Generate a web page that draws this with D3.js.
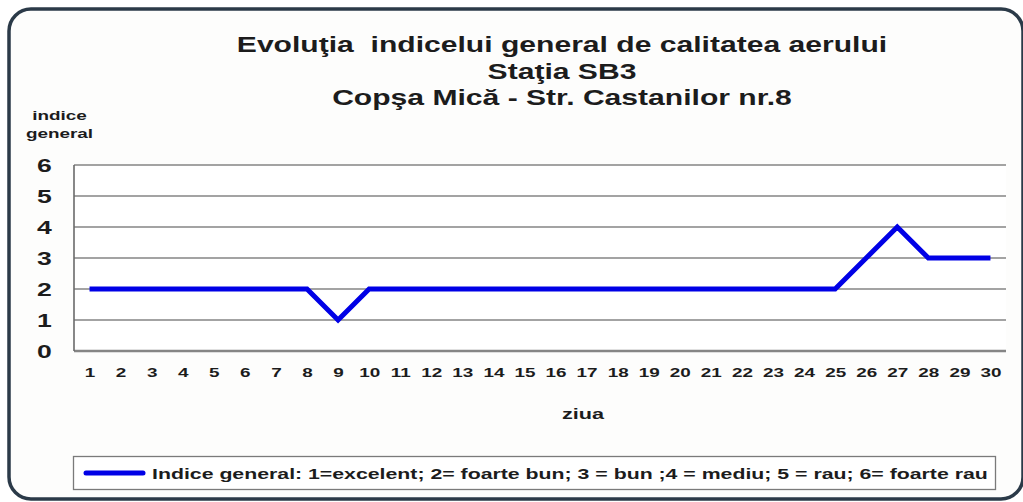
<!DOCTYPE html>
<html><head><meta charset="utf-8">
<script src="https://cdn.jsdelivr.net/npm/d3@7"></script>
<style>html,body{margin:0;padding:0;background:#fff;}svg{display:block;font-family:Arial,"Liberation Sans",sans-serif;}text{white-space:pre;}</style>
</head><body>
<svg id="c" width="1023" height="502"></svg>
<script>
const days = d3.range(1, 31).map(String);
const indexValues = [2,2,2,2,2,2,2,2,1,2,2,2,2,2,2,2,2,2,2,2,2,2,2,2,2,3,4,3,3,3];
const yTicks = [0,1,2,3,4,5,6];
const titleLines = ["Evoluţia  indicelui general de calitatea aerului", "Staţia SB3", "Copşa Mică - Str. Castanilor nr.8"];
const yLabelLines = ["indice", "general"];
const xLabel = "ziua";
const legendLabel = "Indice general: 1=excelent; 2= foarte bun; 3 = bun ;4 = mediu; 5 = rau; 6= foarte rau";

const SX = 1.4; // horizontal stretch of the source picture's text
const ink = "#1c1c1c";
const svg = d3.select("#c");

function stretched(g, x, y, txt, size, anchor) {
  return g.append("text")
    .attr("transform", `translate(${x},${y}) scale(${SX},1)`)
    .attr("text-anchor", anchor || "middle")
    .attr("font-size", size).attr("font-weight", "bold").attr("fill", ink)
    .text(txt);
}

// frame
svg.append("rect").attr("x",9).attr("y",9).attr("width",1014).attr("height",490).attr("rx",22)
  .attr("fill","#fdfdfc").attr("stroke","#2b3a48").attr("stroke-width",3.5);

const m = {left:74, right:1006, top:165, bottom:351};
const x = d3.scalePoint().domain(days).range([m.left, m.right]).padding(0.5);
const y = d3.scaleLinear().domain([0,6]).range([m.bottom, m.top]);

svg.append("rect").attr("x",m.left).attr("y",m.top).attr("width",m.right-m.left).attr("height",m.bottom-m.top).attr("fill","#fff");

// gridlines
svg.append("g").selectAll("line").data(yTicks).join("line")
  .attr("x1", m.left).attr("x2", m.right)
  .attr("y1", d=>y(d)).attr("y2", d=>y(d))
  .attr("stroke","#858585").attr("stroke-width",d=>d===0?2.5:1.6);
svg.append("line").attr("x1",m.left).attr("x2",m.left).attr("y1",m.top).attr("y2",m.bottom)
  .attr("stroke","#6a6a6a").attr("stroke-width",1.6);

// y axis tick labels (positions from the scale)
const yAxis = d3.axisLeft(y).tickValues(yTicks).tickSize(0).tickFormat(d3.format("d"));
const gy = svg.append("g").call(yAxis);
gy.select(".domain").remove();
gy.selectAll(".tick").each(function(d){
  const t = d3.select(this); t.select("text").remove();
  stretched(t, 44.5, 6.8, String(d), 19);
});

// x axis tick labels
const xAxis = d3.axisBottom(x).tickSize(0);
const gx = svg.append("g").attr("transform",`translate(0,${m.bottom})`).call(xAxis);
gx.select(".domain").remove();
gx.selectAll(".tick").each(function(d){
  const t = d3.select(this); t.select("text").remove();
  stretched(t, 0, 26, d, 13.5);
});

// line
const line = d3.line().x((d,i)=>x(days[i])).y(d=>y(d));
svg.append("path").datum(indexValues).attr("d",line).attr("fill","none")
  .attr("stroke","#0000e6").attr("stroke-width",5).attr("stroke-linejoin","miter").attr("stroke-linecap","butt");

// title
const tg = svg.append("g");
titleLines.forEach((t,i)=>stretched(tg, 562, 52 + i*26.5, t, 21.5));

// y label
const yl = svg.append("g");
yLabelLines.forEach((t,i)=>stretched(yl, 59.5, 120 + i*18, t, 13.5));

// x label
stretched(svg, 583, 419, xLabel, 15.5);

// legend
svg.append("rect").attr("x",73.5).attr("y",456.5).attr("width",922).attr("height",33)
  .attr("fill","#fff").attr("stroke","#7a7a7a").attr("stroke-width",1.3);
svg.append("line").attr("x1",86).attr("x2",143).attr("y1",473).attr("y2",473)
  .attr("stroke","#0000e6").attr("stroke-width",5).attr("stroke-linecap","round");
stretched(svg, 152, 479, legendLabel, 15.2, "start");
</script>
</body></html>
